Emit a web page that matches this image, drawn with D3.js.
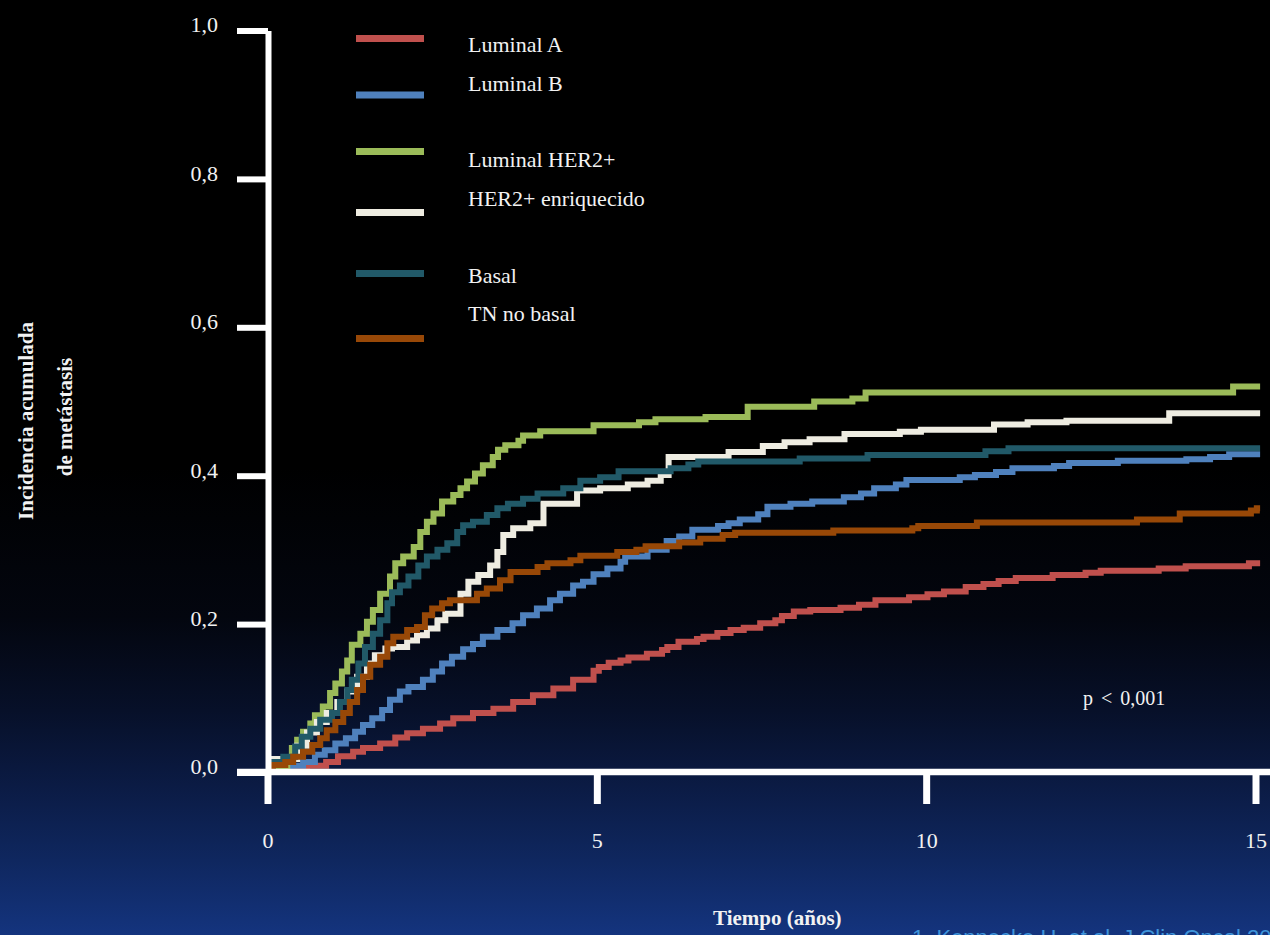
<!DOCTYPE html>
<html>
<head>
<meta charset="utf-8">
<script src="https://cdn.jsdelivr.net/npm/d3@7"></script>
<style>
  html, body { margin: 0; padding: 0; background: #000; overflow: hidden; }
  svg { display: block; }
</style>
</head>
<body>
<svg id="chart" width="1270" height="935"></svg>
<script>
// ---- Data: cumulative incidence of metastasis by subtype (time in years) ----
const categories = ["Luminal A", "Luminal B", "Luminal HER2+", "HER2+ enriquecido", "Basal", "TN no basal"];

const lumA = [[0,0],[0.60,0.003],[0.89,0.008],[1.07,0.016],[1.30,0.022],[1.45,0.027],[1.71,0.033],[1.94,0.041],[2.12,0.047],[2.36,0.053],[2.62,0.060],[2.82,0.067],[3.12,0.074],[3.43,0.080],[3.73,0.089],[4.03,0.098],[4.34,0.107],[4.64,0.119],[4.95,0.131],[5.03,0.136],[5.18,0.142],[5.36,0.145],[5.48,0.149],[5.76,0.154],[5.99,0.159],[6.07,0.163],[6.24,0.170],[6.52,0.174],[6.62,0.177],[6.83,0.182],[7.03,0.186],[7.23,0.189],[7.48,0.195],[7.71,0.199],[7.81,0.205],[7.99,0.211],[8.24,0.213],[8.70,0.216],[8.98,0.220],[9.23,0.226],[9.74,0.230],[10.02,0.234],[10.27,0.238],[10.60,0.244],[10.87,0.248],[11.10,0.252],[11.36,0.256],[11.92,0.260],[12.42,0.263],[12.65,0.266],[13.53,0.269],[13.94,0.272],[14.90,0.276],[15.07,0.276]];

const lumB = [[0,0],[0.34,0.003],[0.54,0.008],[0.72,0.018],[0.87,0.024],[1.03,0.033],[1.19,0.040],[1.33,0.049],[1.45,0.058],[1.59,0.067],[1.74,0.078],[1.86,0.092],[2.01,0.103],[2.14,0.109],[2.36,0.119],[2.51,0.130],[2.65,0.141],[2.80,0.150],[2.97,0.160],[3.12,0.167],[3.27,0.177],[3.49,0.186],[3.72,0.195],[3.88,0.206],[4.09,0.215],[4.29,0.226],[4.44,0.235],[4.64,0.246],[4.79,0.251],[4.95,0.261],[5.16,0.269],[5.36,0.278],[5.43,0.285],[5.77,0.294],[6.06,0.306],[6.25,0.312],[6.45,0.321],[6.84,0.326],[7.00,0.330],[7.17,0.335],[7.45,0.342],[7.59,0.352],[7.94,0.356],[8.27,0.359],[8.75,0.365],[9.01,0.370],[9.21,0.377],[9.54,0.382],[9.70,0.388],[10.51,0.392],[10.74,0.395],[11.06,0.399],[11.31,0.404],[11.94,0.407],[12.17,0.411],[12.91,0.414],[13.95,0.416],[14.31,0.419],[14.60,0.423],[15.07,0.423]];

const lumHer2 = [[0,0],[0.30,0.010],[0.37,0.027],[0.45,0.038],[0.54,0.049],[0.65,0.060],[0.72,0.071],[0.84,0.083],[0.95,0.101],[1.03,0.114],[1.13,0.130],[1.21,0.145],[1.28,0.166],[1.41,0.181],[1.51,0.197],[1.60,0.213],[1.71,0.235],[1.86,0.258],[1.94,0.276],[2.06,0.285],[2.22,0.298],[2.32,0.318],[2.42,0.332],[2.52,0.343],[2.65,0.359],[2.82,0.368],[2.93,0.377],[3.03,0.386],[3.15,0.397],[3.27,0.408],[3.42,0.419],[3.50,0.429],[3.61,0.435],[3.81,0.441],[3.88,0.448],[4.14,0.454],[4.95,0.462],[5.64,0.466],[5.89,0.470],[6.65,0.473],[7.29,0.487],[8.30,0.494],[8.88,0.498],[9.08,0.506],[14.66,0.514],[15.07,0.514]];

const her2Enr = [[0,0],[0.08,0.012],[0.45,0.030],[0.60,0.048],[0.75,0.062],[0.90,0.074],[1.06,0.089],[1.21,0.103],[1.36,0.123],[1.51,0.141],[1.63,0.152],[1.79,0.161],[1.89,0.163],[2.12,0.172],[2.27,0.179],[2.42,0.188],[2.58,0.199],[2.70,0.208],[2.93,0.235],[3.05,0.251],[3.20,0.260],[3.38,0.273],[3.49,0.291],[3.58,0.314],[3.73,0.323],[3.99,0.330],[4.19,0.356],[4.70,0.374],[5.05,0.377],[5.47,0.382],[5.77,0.387],[5.97,0.395],[6.09,0.419],[7.00,0.426],[7.52,0.434],[7.85,0.439],[8.23,0.443],[8.76,0.450],[9.60,0.453],[9.92,0.456],[11.03,0.463],[11.54,0.466],[12.13,0.468],[13.69,0.478],[15.07,0.478]];

const basal = [[0,0],[0.08,0.008],[0.24,0.015],[0.42,0.029],[0.52,0.042],[0.65,0.053],[0.80,0.065],[0.98,0.074],[1.10,0.089],[1.21,0.105],[1.28,0.119],[1.38,0.141],[1.48,0.163],[1.60,0.181],[1.71,0.199],[1.82,0.222],[1.89,0.237],[2.01,0.246],[2.14,0.258],[2.29,0.273],[2.42,0.285],[2.58,0.294],[2.73,0.303],[2.88,0.318],[2.97,0.327],[3.12,0.332],[3.33,0.341],[3.49,0.350],[3.65,0.356],[3.88,0.363],[4.10,0.370],[4.49,0.377],[4.75,0.387],[5.05,0.392],[5.33,0.400],[6.12,0.404],[6.39,0.409],[6.54,0.413],[8.08,0.417],[9.11,0.422],[10.90,0.427],[11.25,0.431],[15.07,0.431]];

const tnNoBasal = [[0,0],[0.08,0.004],[0.27,0.008],[0.39,0.015],[0.54,0.022],[0.68,0.031],[0.80,0.040],[0.90,0.051],[1.03,0.062],[1.15,0.074],[1.25,0.089],[1.36,0.105],[1.45,0.123],[1.56,0.139],[1.71,0.150],[1.82,0.168],[1.91,0.177],[2.12,0.186],[2.27,0.190],[2.39,0.206],[2.50,0.215],[2.65,0.222],[2.77,0.226],[3.18,0.235],[3.33,0.242],[3.53,0.253],[3.69,0.264],[4.10,0.271],[4.25,0.276],[4.60,0.280],[4.75,0.286],[5.31,0.291],[5.60,0.294],[5.74,0.299],[6.25,0.304],[6.57,0.309],[6.91,0.314],[7.10,0.317],[8.59,0.320],[9.79,0.323],[9.88,0.326],[10.77,0.331],[13.20,0.335],[13.85,0.343],[14.93,0.347],[15.02,0.350],[15.07,0.350]];

const seriesValues = [lumA, lumB, lumHer2, her2Enr, basal, tnNoBasal];

const xTicks = [0, 5, 10, 15];
const xTickLabels = ["0", "5", "10", "15"];
const yTicks = [0, 0.2, 0.4, 0.6, 0.8, 1.0];
const yTickLabels = ["0,0", "0,2", "0,4", "0,6", "0,8", "1,0"];

// ---- Styling ----
const seriesColors = ["#C0504D", "#4F81BD", "#9BBB59", "#EEECE1", "#215968", "#984807"];
const drawOrder = [0, 1, 2, 3, 4, 5];
const textColor = "#F2F2F2";
const serif = "'Liberation Serif', 'DejaVu Serif', serif";

const W = 1270, H = 935;
const svg = d3.select("#chart");

// background: black fading into deep blue at the bottom
const defs = svg.append("defs");
const grad = defs.append("linearGradient")
  .attr("id", "bg").attr("x1", 0).attr("y1", 0).attr("x2", 0).attr("y2", 1);
[[0, "#000000"], [0.5, "#000000"], [0.66, "#03060f"], [0.76, "#071029"],
 [0.84, "#0b1b44"], [0.92, "#0f275f"], [1, "#14347e"]]
  .forEach(([o, c]) => grad.append("stop").attr("offset", o).attr("stop-color", c));
svg.append("rect").attr("width", W).attr("height", H).attr("fill", "url(#bg)");

// ---- Scales ----
const x = d3.scaleLinear().domain([0, 15]).range([267.5, 1255.5]);
const y = d3.scaleLinear().domain([0, 1]).range([772.5, 30.5]);

// ---- Curves (raised a few pixels so the zero segments clear the axis stroke) ----
const line = d3.line()
  .x(d => x(d[0]))
  .y(d => y(d[1]))
  .curve(d3.curveStepAfter);

const curves = svg.append("g").attr("transform", "translate(0,-4.5)");
drawOrder.forEach(i => {
  curves.append("path")
    .datum(seriesValues[i])
    .attr("d", line)
    .attr("fill", "none")
    .attr("stroke", seriesColors[i])
    .attr("stroke-width", 6)
    .attr("stroke-linejoin", "miter");
});

// ---- Axes ----
const yAxis = d3.axisLeft(y)
  .tickValues(yTicks)
  .tickFormat((d, i) => yTickLabels[i])
  .tickSize(31)
  .tickSizeOuter(0)
  .tickPadding(19);

const gy = svg.append("g").attr("transform", "translate(268,0)").call(yAxis);
gy.select(".domain").attr("stroke", "#fff").attr("stroke-width", 6);
gy.selectAll(".tick line").attr("stroke", "#fff").attr("stroke-width", 6);
gy.selectAll(".tick text")
  .attr("fill", textColor)
  .attr("dy", "0.06em")
  .style("font-family", serif)
  .style("font-size", "22px");

const xAxis = d3.axisBottom(x)
  .tickValues(xTicks)
  .tickFormat((d, i) => xTickLabels[i])
  .tickSize(32)
  .tickSizeOuter(0);

const gx = svg.append("g").attr("transform", "translate(0,772)").call(xAxis);
gx.select(".domain").remove();
gx.selectAll(".tick line").attr("stroke", "#fff").attr("stroke-width", 7);
gx.selectAll(".tick text")
  .attr("fill", textColor)
  .attr("y", 76)
  .attr("dy", 0)
  .style("font-family", serif)
  .style("font-size", "22px");

// horizontal baseline runs from the left end of the y ticks to the right edge
gx.append("line")
  .attr("x1", 268 - 31).attr("x2", W)
  .attr("y1", 0).attr("y2", 0)
  .attr("stroke", "#fff").attr("stroke-width", 6.5);

// ---- Axis titles ----
const yTitle = svg.append("g")
  .style("font-family", serif).style("font-size", "21px").style("font-weight", "bold")
  .attr("fill", textColor).attr("text-anchor", "middle");
yTitle.append("text").attr("transform", "translate(33,421) rotate(-90)").text("Incidencia acumulada");
yTitle.append("text").attr("transform", "translate(72,417) rotate(-90)").text("de metástasis");

svg.append("text")
  .attr("x", 713).attr("y", 925)
  .attr("fill", textColor)
  .style("font-family", serif).style("font-size", "21px").style("font-weight", "bold")
  .text("Tiempo (años)");

// ---- Legend ----
const legendLayout = {
  lineX1: 356, lineX2: 424, textX: 468,
  lineY: [38.5, 95, 151.5, 212.5, 273.5, 338.5],
  textY: [52, 90.5, 166.5, 205.5, 282.5, 321]
};
const legend = svg.append("g");
categories.forEach((name, i) => {
  legend.append("line")
    .attr("x1", legendLayout.lineX1).attr("x2", legendLayout.lineX2)
    .attr("y1", legendLayout.lineY[i]).attr("y2", legendLayout.lineY[i])
    .attr("stroke", seriesColors[i]).attr("stroke-width", 7);
  legend.append("text")
    .attr("x", legendLayout.textX).attr("y", legendLayout.textY[i])
    .attr("fill", textColor)
    .style("font-family", serif).style("font-size", "22px")
    .text(name);
});

// ---- Annotations ----
svg.append("text")
  .attr("x", 1083).attr("y", 705)
  .attr("fill", textColor)
  .style("font-family", serif).style("font-size", "20px").style("word-spacing", "3px")
  .text("p < 0,001");

svg.append("text")
  .attr("x", 912).attr("y", 945)
  .attr("fill", "#3f95da")
  .style("font-family", "'Liberation Sans', Arial, sans-serif").style("font-size", "22px")
  .text("1. Kennecke H, et al. J Clin Oncol 2010");
</script>
</body>
</html>
